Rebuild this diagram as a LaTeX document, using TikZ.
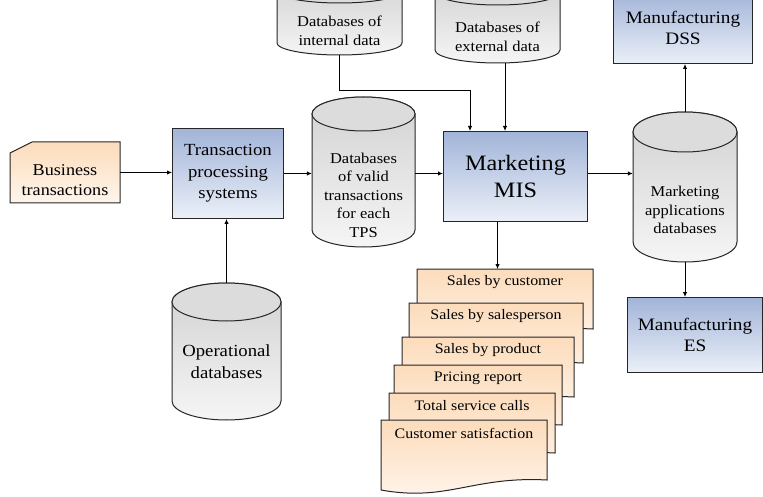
\documentclass[tikz,border=0pt]{standalone}
\usepackage{fontspec}
\setmainfont[FakeStretch=1.1]{Liberation Serif}
\usetikzlibrary{arrows.meta,calc}

\definecolor{blueTop}{HTML}{A2B4D8}
\definecolor{blueBot}{HTML}{EBF0F8}
\definecolor{peachTop}{HTML}{FCDCBB}
\definecolor{peachBot}{HTML}{FFF5EC}
\definecolor{cylTop}{HTML}{DCDCDC}
\definecolor{cylBodyTop}{HTML}{D2D2D2}
\definecolor{cylBodyBot}{HTML}{F5F5F5}
\definecolor{edge}{HTML}{262626}

\tikzset{
  outline/.style={draw=edge, line width=1pt},
  sysbox/.style={outline, top color=blueTop, bottom color=blueBot,
    align=center, inner sep=0pt, anchor=north west},
  flow/.style={draw=black, line width=0.9pt, -{Latex[length=5pt,width=4.5pt]}},
  cardtext/.style={inner sep=0pt, font=\fontsize{14.5}{17}\selectfont},
}

% cylinder: name, left, top, right, bottom, end radius, text y, font, text
\newcommand\dbcylinder[9]{%
  \pgfmathsetmacro\cylrx{(#4-#2)/2}%
  \pgfmathsetmacro\cylw{#4-#2}%
  \pgfmathsetmacro\cylh{#5-#3}%
  \path[outline, top color=cylBodyTop, bottom color=cylBodyBot]
    (#2,{-(#3+#6)}) -- (#2,{-(#5-#6)})
    arc[start angle=180, end angle=360, x radius=\cylrx pt, y radius=#6 pt]
    -- (#4,{-(#3+#6)})
    arc[start angle=0, end angle=180, x radius=\cylrx pt, y radius=#6 pt] -- cycle;
  \path[outline, fill=cylTop] ({(#2+#4)/2},{-(#3+#6)})
    ellipse[x radius=\cylrx pt, y radius=#6 pt];
  \node[inner sep=0pt, minimum width=\cylw pt, minimum height=\cylh pt]
    (#1) at ({(#2+#4)/2},{-(#3+#5)/2}) {};
  \node[align=center, inner sep=0pt, font=#8] (#1-txt) at ({(#2+#4)/2},-#7) {#9};
}

% report sheet with a wavy lower edge: name, left, top, right, text
\newcommand\reportcard[5]{%
  \path[outline, top color=peachTop, bottom color=peachBot]
    (#2,-#3) -- (#4,-#3) -- (#4,{-(#3+60)})
    .. controls ({#4-0.45*(#4-#2)},{-(#3+56)}) and ({#2+0.4*(#4-#2)},{-(#3+82)})
    .. (#2,{-(#3+70)}) -- cycle;
  \coordinate (#1-top) at ({(#2+#4)/2},-#3);
  \node[cardtext] (#1) at ({(#2+#4)/2},{-(#3+13)}) {#5};
}

\begin{document}
\begin{tikzpicture}[x=1pt, y=1pt]
\useasboundingbox (0,0) rectangle (763,-497);
\clip (0,0) rectangle (763,-497);

% source document
\path[outline, top color=peachTop, bottom color=peachBot]
  (10,-153) -- (32,-142) -- (120,-142) -- (120,-203) -- (10,-203) -- cycle;
\node[inner sep=0pt, minimum width=110pt, minimum height=61pt] (bt) at (65,-172.5) {};
\node[align=center, inner sep=0pt, font=\fontsize{16.5}{20}\selectfont]
  (bt-txt) at (65,-180) {Business\\transactions};

% information systems
\node[sysbox, minimum width=111pt, minimum height=90pt,
      font=\fontsize{17}{21.5}\selectfont] (tps) at (172,-128)
  {Transaction\\processing\\systems};
\node[sysbox, minimum width=144pt, minimum height=90pt,
      font=\fontsize{22}{27}\selectfont] (mis) at (443,-131)
  {Marketing\\MIS};
\node[sysbox, minimum width=139pt, minimum height=71pt,
      font=\fontsize{17.5}{21.5}\selectfont] (dss) at (613,8)
  {Manufacturing\\DSS};
\node[sysbox, minimum width=135pt, minimum height=75pt,
      font=\fontsize{17.5}{21.5}\selectfont] (es) at (627,-297)
  {Manufacturing\\ES};

% databases
\dbcylinder{dbint}{277}{-21}{402}{55}{12}{31}{\fontsize{15}{18.5}\selectfont}
  {Databases of\\internal data}
\dbcylinder{dbext}{435}{-21}{560}{63}{13}{37}{\fontsize{15}{18.5}\selectfont}
  {Databases of\\external data}
\dbcylinder{dbvalid}{312}{97}{415}{247}{17}{195}{\fontsize{15}{18.5}\selectfont}
  {Databases\\of valid\\transactions\\for each\\TPS}
\dbcylinder{dbop}{172}{283}{281}{420}{19}{362}{\fontsize{17}{22}\selectfont}
  {Operational\\databases}
\dbcylinder{dbapp}{633}{112}{737}{262}{20}{210}{\fontsize{15}{18.5}\selectfont}
  {Marketing\\applications\\databases}

% stack of reports, back to front
\reportcard{card1}{417}{269}{593}{Sales by customer}
\reportcard{card2}{409}{303}{583}{Sales by salesperson}
\reportcard{card3}{402}{337}{574}{Sales by product}
\reportcard{card4}{394}{365}{562}{Pricing report}
\reportcard{card5}{389}{393}{555}{Total service calls}
\reportcard{card6}{381}{420}{547}{Customer satisfaction}

% connectors
\draw[flow] (bt.east) -- (bt.east -| tps.west);
\draw[flow] (tps.east) -- (tps.east -| dbvalid.west);
\draw[flow] (tps.east -| dbvalid.east) -- (tps.east -| mis.west);
\draw[flow] (tps.east -| mis.east) -- (tps.east -| dbapp.west);
\draw[flow] (dbop.north) -- (dbop.north |- tps.south);
\coordinate (misin) at ([xshift=27pt]mis.north west);
\draw[flow] (dbint.south) -- ++(0,-35) -| (misin);
\coordinate (extout) at ([xshift=7.5pt]dbext.south);
\draw[flow] (extout) -- (extout |- mis.north);
\coordinate (misout) at ([xshift=-18pt]mis.south);
\draw[flow] (misout) -- (misout |- card1-top);
\draw[flow] (dbapp.north) -- (dbapp.north |- dss.south);
\draw[flow] (dbapp.south) -- (dbapp.south |- es.north);
\end{tikzpicture}
\end{document}
